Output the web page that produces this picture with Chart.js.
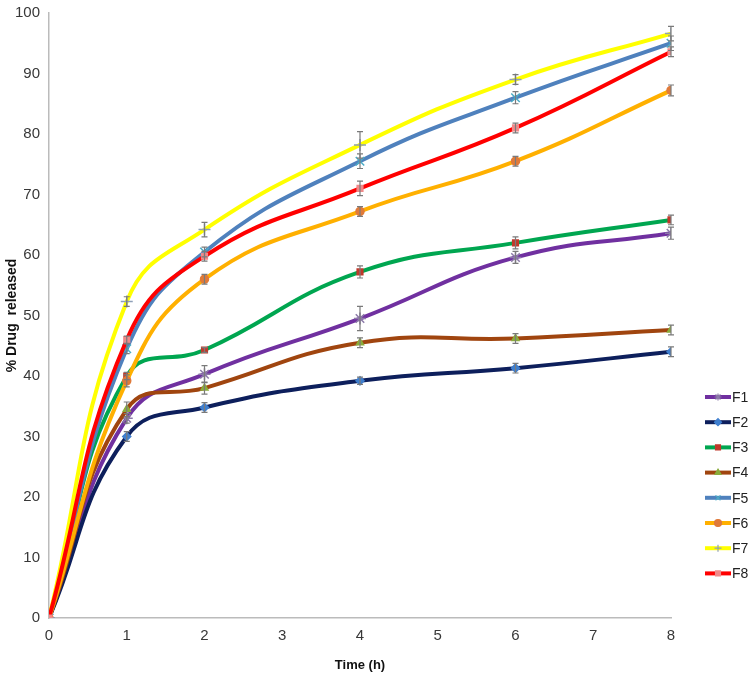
<!DOCTYPE html>
<html>
<head>
<meta charset="utf-8">
<script src="https://cdn.jsdelivr.net/npm/chart.js@4"></script>
<style>
  html,body{margin:0;padding:0;background:#fff;}
  #wrap{width:750px;height:685px;position:relative;}
</style>
</head>
<body>
<div id="wrap"><canvas id="c" width="750" height="685"></canvas></div>
<script>
/* ─── DATA ─────────────────────────────── */
const TIMES  = [0, 1, 2, 4, 6, 8];
const LABELS = ['F1','F2','F3','F4','F5','F6','F7','F8'];

const F1 = [0, 33.0, 40.3, 49.5, 59.6, 63.6];
const F2 = [0, 30.0, 34.8, 39.2, 41.3, 44.0];
const F3 = [0, 40.0, 44.3, 57.2, 62.0, 65.8];
const F4 = [0, 34.5, 38.0, 45.5, 46.2, 47.6];
const F5 = [0, 44.5, 60.5, 75.5, 86.0, 95.0];
const F6 = [0, 39.2, 56.0, 67.2, 75.5, 87.2];
const F7 = [0, 52.3, 64.2, 78.2, 89.0, 96.6];
const F8 = [0, 46.0, 59.8, 71.0, 81.0, 93.6];

/* error bar half-widths */
const E1 = [0, 0.8, 1.4, 2.0, 1.0, 1.0];
const E2 = [0, 0.8, 0.8, 0.6, 0.8, 0.8];
const E3 = [0, 0.6, 0.4, 1.0, 1.0, 0.8];
const E4 = [0, 1.2, 1.0, 0.8, 0.8, 0.8];
const E5 = [0, 0.8, 0.8, 1.2, 1.0, 1.2];
const E6 = [0, 1.0, 0.8, 0.8, 0.8, 0.9];
const E7 = [0, 0.8, 1.2, 2.2, 0.8, 1.2];
const E8 = [0, 0.6, 0.8, 1.2, 0.8, 0.8];

const SERIES = [F1,F2,F3,F4,F5,F6,F7,F8];
const ERRS   = [E1,E2,E3,E4,E5,E6,E7,E8];

const LINE_COL  = ['#7030a0','#0d1f5c','#00a650','#a0450f','#4f81bd','#ffb000','#ffff00','#ff0000'];
const MARK_COL  = ['#8c7aa8','#3f7fcf','#c0392b','#8aac3c','#4bacc6','#e07a3a','#8fa0b8','#f08a8a'];
const MARK_STY  = ['star','rectRot','rect','triangle','crossRot','circle','cross','rect'];

const X_TICKS = [0,1,2,3,4,5,6,7,8];

const FONT = '"Liberation Sans", Arial, sans-serif';

/* ─── PLUGINS ──────────────────────────── */
const errorBars = {
  id:'errorBars',
  afterDatasetsDraw(chart){
    const ctx = chart.ctx, ys = chart.scales.y;
    ctx.save();
    ctx.strokeStyle = '#7a7a7a'; ctx.lineWidth = 1.2;
    chart.data.datasets.forEach((ds,i)=>{
      const meta = chart.getDatasetMeta(i);
      meta.data.forEach((pt,j)=>{
        const e = ERRS[i][j]; if(!e) return;
        const v = SERIES[i][j];
        const top = ys.getPixelForValue(v+e), bot = ys.getPixelForValue(v-e);
        ctx.beginPath();
        ctx.moveTo(pt.x, top); ctx.lineTo(pt.x, bot);
        ctx.moveTo(pt.x-3, top); ctx.lineTo(pt.x+3, top);
        ctx.moveTo(pt.x-3, bot); ctx.lineTo(pt.x+3, bot);
        ctx.stroke();
      });
    });
    ctx.restore();
  }
};

const sideLegend = {
  id:'sideLegend',
  afterDraw(chart){
    const ctx = chart.ctx;
    ctx.save();
    ctx.font = '14px ' + FONT;
    ctx.textBaseline = 'middle';
    chart.data.datasets.forEach((ds,i)=>{
      const y = 397 + i*25.2;
      ctx.strokeStyle = ds.borderColor; ctx.lineWidth = 4;
      ctx.beginPath(); ctx.moveTo(705,y); ctx.lineTo(731,y); ctx.stroke();
      ctx.fillStyle = ds.pointBackgroundColor;
      ctx.strokeStyle = ds.pointBorderColor;
      ctx.lineWidth = 1.2;
      Chart.helpers.drawPoint(ctx, {pointStyle:ds.pointStyle, radius:3.5, borderWidth:1.2}, 718, y);
      ctx.fillStyle = '#222';
      ctx.fillText(ds.label, 732, y+1);
    });
    ctx.restore();
  }
};

/* ─── CHART ────────────────────────────── */
const datasets = SERIES.map((s,i)=>({
  label: LABELS[i],
  data: s.map((v,j)=>({x:TIMES[j], y:v})),
  borderColor: LINE_COL[i],
  backgroundColor: LINE_COL[i],
  borderWidth: 4,
  tension: 0.45,
  pointStyle: MARK_STY[i],
  pointRadius: MARK_STY[i]==='star' || MARK_STY[i]==='crossRot' || MARK_STY[i]==='cross' ? 6 : 4,
  pointBackgroundColor: MARK_COL[i],
  pointBorderColor: MARK_COL[i],
  pointBorderWidth: 1.5,
  order: 8-i
}));

new Chart(document.getElementById('c').getContext('2d'),{
  type:'line',
  data:{ datasets },
  options:{
    responsive:false, animation:false,
    layout:{ padding:{ left:0, right:79, top:12, bottom:0 } },
    plugins:{ legend:{display:false}, tooltip:{enabled:false} },
    scales:{
      x:{
        type:'linear', min:0, max:8,
        afterBuildTicks: s=>{ s.ticks = X_TICKS.map(v=>({value:v})); },
        afterFit: s=>{ s.height = 67; },
        grid:{ display:false, drawTicks:true, tickLength:5, tickColor:'#bbb' },
        border:{ color:'#bbb', width:1.5 },
        ticks:{ color:'#383838', font:{ size:15, family:FONT }, padding:4, maxRotation:0 },
        title:{ display:true, text:'Time (h)', color:'#111', font:{ size:13, weight:'bold', family:FONT }, padding:{top:2, bottom:12} }
      },
      y:{
        min:0, max:100,
        ticks:{ stepSize:10, color:'#383838', font:{ size:15, family:FONT }, padding:4 },
        afterFit: s=>{ s.width = 49; },
        grid:{ display:false, drawTicks:true, tickLength:5, tickColor:'#bbb' },
        border:{ color:'#bbb', width:1.5 },
        title:{ display:true, text:'% Drug  released', color:'#111', font:{ size:14, weight:'bold', family:FONT }, padding:{bottom:0} }
      }
    }
  },
  plugins:[errorBars, sideLegend]
});
</script>
</body>
</html>
